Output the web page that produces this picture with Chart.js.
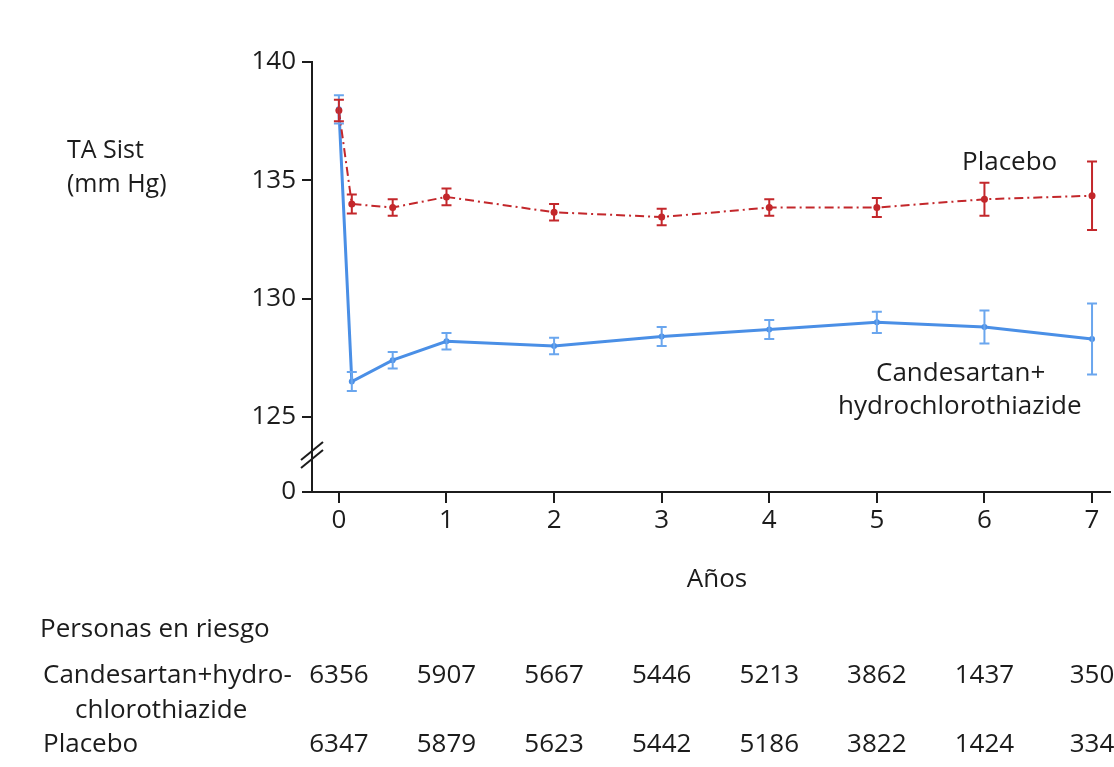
<!DOCTYPE html>
<html>
<head>
<meta charset="utf-8">
<title>TA sistólica</title>
<script src="https://cdn.jsdelivr.net/npm/chart.js@4"></script>
<style>
  html, body { margin: 0; padding: 0; background: #fff; }
  #wrap { width: 1114px; height: 767px; }
</style>
</head>
<body>
<div id="wrap"><canvas id="grafico" width="1114" height="767"></canvas></div>
<script>
// Datos (años de seguimiento, media y semiamplitud del IC)
const anios = [0, 0.12, 0.5, 1, 2, 3, 4, 5, 6, 7];
const candesartan = [138.0, 126.5, 127.4, 128.2, 128.0, 128.4, 128.7, 129.0, 128.8, 128.3];
const candesartanErr = [0.6, 0.4, 0.35, 0.35, 0.35, 0.4, 0.4, 0.45, 0.7, 1.5];
const placebo = [137.95, 134.0, 133.85, 134.3, 133.65, 133.45, 133.85, 133.85, 134.2, 134.35];
const placeboErr = [0.45, 0.4, 0.35, 0.35, 0.35, 0.35, 0.35, 0.4, 0.7, 1.45];

const ticksX = [0, 1, 2, 3, 4, 5, 6, 7];
const ticksY = [125, 130, 135, 140];
const corteY = 121.83; // valor que se rotula "0" tras el corte del eje

// Personas en riesgo
const riesgoCandesartan = [6356, 5907, 5667, 5446, 5213, 3862, 1437, 350];
const riesgoPlacebo = [6347, 5879, 5623, 5442, 5186, 3822, 1424, 334];

const FUENTE = '"Open Sans", "DejaVu Sans", sans-serif';
const AZUL = '#4a8fe6';
const AZUL_CLARO = '#6aa6ee';
const ROJO = '#c3272b';
const NEGRO = '#1c1c1c';

const puntos = (ys) => anios.map((x, i) => ({ x: x, y: ys[i] }));

// barras de error (primero azul, luego rojo encima)
const barrasError = {
  id: 'barrasError',
  afterDatasetsDraw(chart) {
    const ctx = chart.ctx;
    const y = chart.scales.y;
    chart.data.datasets.forEach((ds, d) => {
      const meta = chart.getDatasetMeta(d);
      ctx.save();
      ctx.strokeStyle = ds.errColor;
      ctx.lineWidth = 2;
      meta.data.forEach((p, i) => {
        const v = ds.data[i].y, e = ds.err[i];
        const y1 = y.getPixelForValue(v + e), y2 = y.getPixelForValue(v - e);
        ctx.beginPath();
        ctx.moveTo(p.x, y1); ctx.lineTo(p.x, y2);
        ctx.moveTo(p.x - 5, y1); ctx.lineTo(p.x + 5, y1);
        ctx.moveTo(p.x - 5, y2); ctx.lineTo(p.x + 5, y2);
        ctx.stroke();
      });
      ctx.restore();
    });
  }
};

// textos, corte del eje y tabla de personas en riesgo
const textos = {
  id: 'textos',
  afterDraw(chart) {
    const ctx = chart.ctx;
    const x = chart.scales.x;
    const area = chart.chartArea;
    ctx.save();
    ctx.fillStyle = NEGRO;
    ctx.font = '25px ' + FUENTE;
    ctx.textAlign = 'left';
    ctx.textBaseline = 'alphabetic';
    ctx.fillText('TA Sist', 67, 158);
    ctx.fillText('(mm Hg)', 67, 192);

    ctx.font = '26px ' + FUENTE;
    ctx.fillText('Placebo', 962, 170);
    ctx.fillText('Candesartan+', 876, 381);
    ctx.fillText('hydrochlorothiazide', 838, 414);

    ctx.textAlign = 'center';
    ctx.fillText('Años', 717, 587);

    // corte del eje
    ctx.strokeStyle = NEGRO;
    ctx.lineWidth = 2;
    const cx = area.left, cy = 455;
    [-4, 4].forEach(o => {
      ctx.beginPath();
      ctx.moveTo(cx - 11, cy + o + 9);
      ctx.lineTo(cx + 11, cy + o - 9);
      ctx.stroke();
    });

    // tabla
    ctx.textAlign = 'left';
    ctx.fillText('Personas en riesgo', 40, 637);
    ctx.fillText('Candesartan+hydro-', 43, 683);
    ctx.fillText('chlorothiazide', 75, 718);
    ctx.fillText('Placebo', 43, 752);
    ctx.textAlign = 'center';
    ticksX.forEach((t, i) => {
      const px = x.getPixelForValue(t);
      ctx.fillText(String(riesgoCandesartan[i]), px, 683);
      ctx.fillText(String(riesgoPlacebo[i]), px, 752);
    });
    ctx.restore();
  }
};

new Chart(document.getElementById('grafico'), {
  type: 'scatter',
  data: {
    datasets: [
      {
        label: 'Candesartan+hydrochlorothiazide',
        data: puntos(candesartan),
        err: candesartanErr,
        errColor: AZUL_CLARO,
        order: 2,
        showLine: true,
        borderColor: AZUL,
        backgroundColor: AZUL,
        borderWidth: 3,
        pointRadius: 3,
        pointBorderWidth: 0
      },
      {
        label: 'Placebo',
        data: puntos(placebo),
        err: placeboErr,
        errColor: ROJO,
        order: 1,
        showLine: true,
        borderColor: ROJO,
        backgroundColor: ROJO,
        borderWidth: 2,
        borderDash: [9, 4, 2, 4],
        pointRadius: 3.5,
        pointBorderWidth: 0
      }
    ]
  },
  options: {
    responsive: false,
    animation: false,
    layout: { padding: { top: 62, right: 0, bottom: 0, left: 0 } },
    plugins: { legend: { display: false }, tooltip: { enabled: false } },
    scales: {
      x: {
        type: 'linear',
        min: -0.25,
        max: 7.167,
        afterBuildTicks: s => { s.ticks = ticksX.map(v => ({ value: v })); },
        afterFit: s => { s.height = 767 - 492; },
        grid: { display: true, drawOnChartArea: false, drawTicks: true, tickLength: 11, color: NEGRO, lineWidth: 2 },
        border: { display: true, color: NEGRO, width: 2 },
        ticks: { color: NEGRO, font: { family: FUENTE, size: 26 }, padding: 2, maxRotation: 0 }
      },
      y: {
        type: 'linear',
        min: corteY,
        max: 140,
        afterBuildTicks: s => { s.ticks = [corteY].concat(ticksY).map(v => ({ value: v })); },
        afterFit: s => { s.width = 312; },
        grid: { display: true, drawOnChartArea: false, drawTicks: true, tickLength: 10, color: NEGRO, lineWidth: 2 },
        border: { display: true, color: NEGRO, width: 2 },
        ticks: {
          color: NEGRO,
          font: { family: FUENTE, size: 26 },
          padding: 6,
          callback: v => (v === corteY ? '0' : String(v))
        }
      }
    }
  },
  plugins: [barrasError, textos]
});
</script>
</body>
</html>
